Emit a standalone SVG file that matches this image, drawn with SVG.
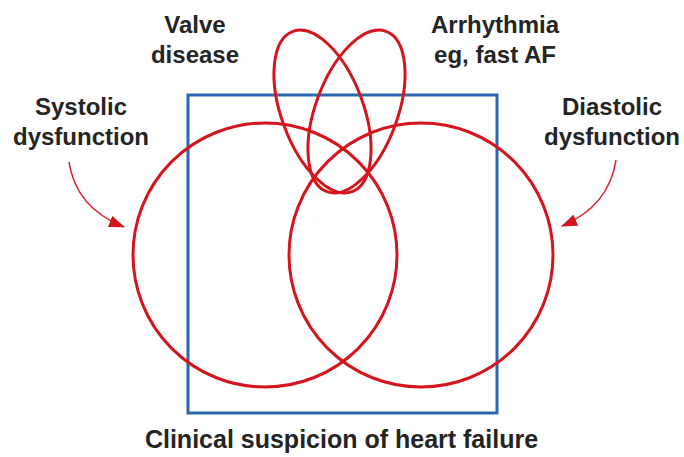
<svg xmlns="http://www.w3.org/2000/svg" width="684" height="457" viewBox="0 0 684 457">
<style>
.red{fill:none;stroke:#d5151d;stroke-width:3}
.box{fill:none;stroke:#2b67ad;stroke-width:3}
.lbl{font-family:"Liberation Sans",Arial,sans-serif;font-weight:bold;font-size:24px;fill:#242424;text-anchor:middle}
.arr{fill:none;stroke:#d9272e;stroke-width:1.6}
</style>
<defs>
<marker id="ah" markerUnits="userSpaceOnUse" markerWidth="16" markerHeight="12" viewBox="0 0 16 12" refX="15" refY="6" orient="auto">
<path d="M0,0 L16,6 L0,12 Z" fill="#d5151d"/>
</marker>
</defs>
<rect width="684" height="457" fill="#ffffff"/>
<g id="heart-failure">
<rect class="box" x="188" y="95" width="309" height="318"/>
<text class="lbl" x="341.5" y="448" style="font-size:25px">Clinical suspicion of heart failure</text>
</g>
<g id="systolic">
<circle class="red" cx="265" cy="255" r="132"/>
<text class="lbl" x="81" y="115">Systolic</text>
<text class="lbl" x="81" y="145">dysfunction</text>
</g>
<g id="diastolic">
<circle class="red" cx="421" cy="255" r="132"/>
<text class="lbl" x="612" y="115">Diastolic</text>
<text class="lbl" x="612" y="145">dysfunction</text>
</g>
<g id="valve">
<ellipse class="red" cx="322.5" cy="111.5" rx="41" ry="85.5" transform="rotate(-20.25 322.5 111.5)"/>
<text class="lbl" x="195" y="33">Valve</text>
<text class="lbl" x="195" y="63">disease</text>
</g>
<g id="arrhythmia">
<ellipse class="red" cx="356.5" cy="111.5" rx="41" ry="85.5" transform="rotate(20.25 356.5 111.5)"/>
<text class="lbl" x="495" y="33">Arrhythmia</text>
<text class="lbl" x="495" y="63">eg, fast AF</text>
</g>
<g id="connectors">
<path class="arr" d="M69,162 Q76,208 124,227" marker-end="url(#ah)"/>
<path class="arr" d="M616,160 Q609,206 562,226" marker-end="url(#ah)"/>
</g>
</svg>
